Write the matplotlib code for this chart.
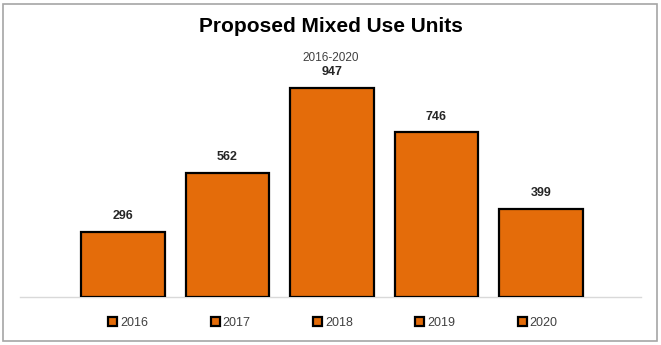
import matplotlib
matplotlib.use("Agg")
import matplotlib.pyplot as plt
from matplotlib.patches import Rectangle

years = ["2016", "2017", "2018", "2019", "2020"]
units = [296, 562, 947, 746, 399]

title = "Proposed Mixed Use Units"
subtitle = "2016-2020"

bar_color = "#E46C0A"
fonts = ["Liberation Sans Narrow", "Liberation Sans", "DejaVu Sans"]
plt.rcParams["font.family"] = fonts

W, H = 661, 345
fig = plt.figure(figsize=(W / 100, H / 100), dpi=100)

# outer frame of the chart
fig.add_artist(Rectangle((3 / W, 4 / H), 654 / W, 337 / H, transform=fig.transFigure,
                         fill=False, edgecolor="#a6a6a6", linewidth=1.2))

# plot area: baseline at y=297 px, spanning x 20..641 px
ax_left, ax_right = 20, 641
ax_bottom, ax_top = 297, 60
ax = fig.add_axes([ax_left / W, (H - ax_bottom) / H,
                   (ax_right - ax_left) / W, (ax_bottom - ax_top) / H])

x = list(range(len(years)))
bars = ax.bar(x, units, width=0.8, color=bar_color, edgecolor="black",
              linewidth=1.6, label=None, zorder=3)
for b, yr in zip(bars, years):
    b.set_label(yr)

for xi, v in zip(x, units):
    ax.annotate(f"{v}", (xi, v), xytext=(0, 7), textcoords="offset points",
                ha="center", va="bottom", fontsize=9, fontweight="bold",
                color="#262626")

ax.set_xlim(-0.986, 4.96)
ax.set_ylim(0, (ax_bottom - ax_top) * 947 / 209)
ax.set_yticks([])
ax.set_xticks([])
for s in ["top", "right", "left"]:
    ax.spines[s].set_visible(False)
ax.spines["bottom"].set_color("#d9d9d9")
ax.spines["bottom"].set_linewidth(1.0)
ax.patch.set_visible(False)

fig.text(0.5, (H - 27) / H, title, ha="center", va="center", fontsize=15,
         fontweight="bold", color="black")
fig.text(0.5, (H - 58) / H, subtitle, ha="center", va="center", fontsize=8.5,
         color="#404040")

leg = fig.legend(handles=list(bars), labels=years, loc="center",
                 bbox_to_anchor=(333 / W, (H - 323) / H), ncol=5, frameon=False,
                 fontsize=9, handlelength=0.7, handleheight=0.7,
                 handletextpad=0.25, columnspacing=5.0, borderaxespad=0)
for t in leg.get_texts():
    t.set_color("#404040")

fig.savefig("out.png", dpi=100)
